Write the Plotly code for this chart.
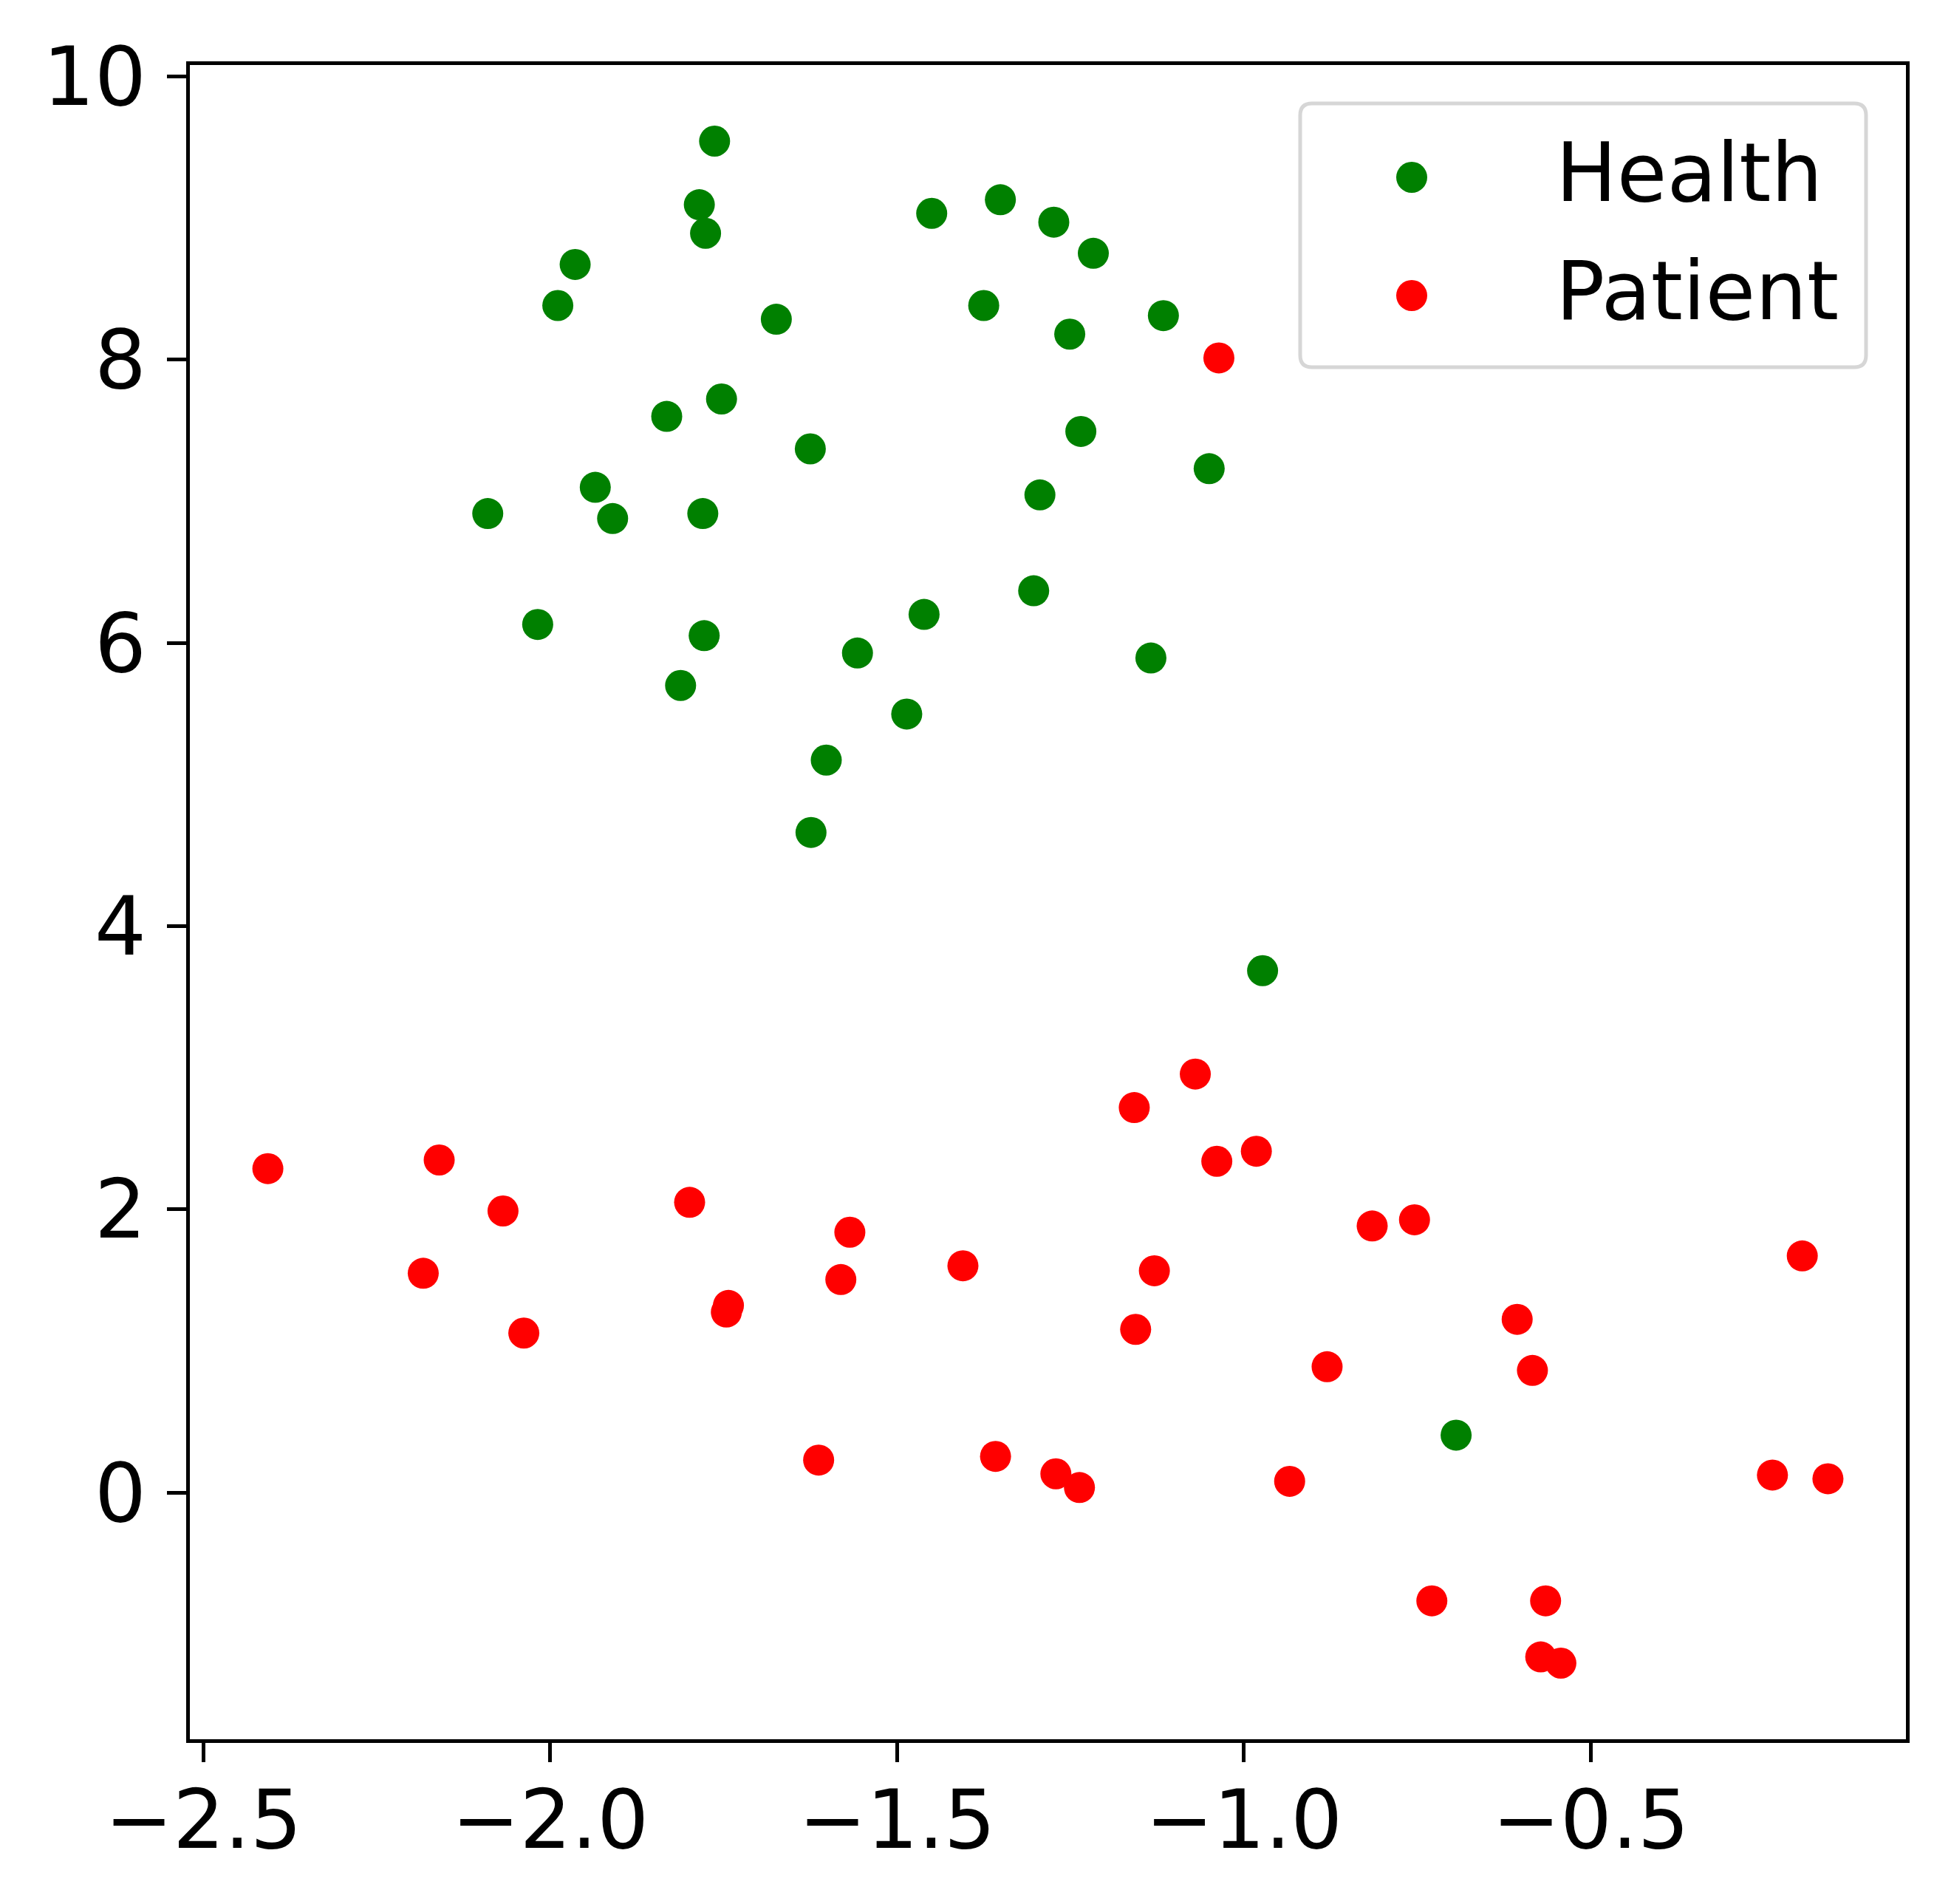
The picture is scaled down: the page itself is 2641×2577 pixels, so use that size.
import plotly.graph_objects as go

health_x = [-1.763, -1.785, -1.776, -1.964, -1.989, -1.674, -1.450, -1.351, -1.274, -1.217,
            -1.375, -1.251, -1.116, -1.832, -1.753, -1.625, -1.235, -1.050, -1.294, -2.090,
            -1.935, -1.910, -1.780, -2.018, -1.778, -1.812, -1.557, -1.461, -1.303, -1.134,
            -1.486, -1.602, -1.624, -0.973, -0.694]
health_y = [9.543, 9.094, 8.892, 8.672, 8.382, 8.285, 9.033, 9.129, 8.971, 8.751,
            8.382, 8.180, 8.311, 7.599, 7.722, 7.370, 7.493, 7.230, 7.045, 6.913,
            7.098, 6.878, 6.913, 6.130, 6.051, 5.699, 5.928, 6.201, 6.368, 5.893,
            5.497, 5.172, 4.661, 3.685, 0.405]

patient_x = [-1.036, -2.407, -2.160, -2.068, -2.183, -2.038, -1.799, -1.568, -1.581, -1.743,
             -1.746, -1.405, -1.613, -1.358, -1.271, -1.237, -1.158, -1.070, -1.039, -0.982,
             -1.129, -1.156, -0.934, -0.880, -0.815, -0.754, -0.729, -0.606, -0.584, -0.565,
             -0.572, -0.543, -0.195, -0.238, -0.158]
patient_y = [8.012, 2.287, 2.348, 1.988, 1.548, 1.126, 2.049, 1.838, 1.504, 1.321,
             1.274, 1.601, 0.229, 0.255, 0.132, 0.035, 2.718, 2.955, 2.339, 2.410,
             1.566, 1.152, 0.079, 0.888, 1.882, 1.926, -0.765, 1.223, 0.862, -0.765,
             -1.161, -1.205, 1.671, 0.123, 0.097]

series_names = ["Health", "Patient"]
series_colors = ["green", "red"]

x_ticks = [-2.5, -2.0, -1.5, -1.0, -0.5]
y_ticks = [0, 2, 4, 6, 8, 10]

# matplotlib-style 5% margins
all_x = health_x + patient_x
all_y = health_y + patient_y
dx = (max(all_x) - min(all_x)) * 0.05
dy = (max(all_y) - min(all_y)) * 0.05
x_range = [min(all_x) - dx, max(all_x) + dx]
y_range = [min(all_y) - dy, max(all_y) + dy]

W, H = 2641, 2577
OFF = 8  # page body margin
ML, MR, MT, MB = 257 - OFF, 61 + OFF, 88 - OFF, 223 + OFF
PW, PH = W - ML - MR, H - MT - MB
FONT = dict(family="DejaVu Sans", size=110, color="black")
MSIZE = 42

fig = go.Figure()
for xs, ys, name, col in [(health_x, health_y, series_names[0], series_colors[0]),
                          (patient_x, patient_y, series_names[1], series_colors[1])]:
    fig.add_trace(go.Scatter(x=xs, y=ys, mode="markers", name=name,
                             marker=dict(color=col, size=MSIZE, line=dict(width=0)),
                             showlegend=False))

axis_common = dict(showline=True, linecolor="black", linewidth=5, mirror=True,
                   ticks="outside", ticklen=26, tickwidth=5, tickcolor="black",
                   showgrid=False, zeroline=False, tickfont=FONT)
fig.update_xaxes(range=x_range, tickvals=x_ticks, ticktext=[f"{v:.1f}".replace("-", "\u2212") for v in x_ticks],
                 ticklabelstandoff=-16, **axis_common)
fig.update_yaxes(range=y_range, tickvals=y_ticks, ticktext=[str(v) for v in y_ticks],
                 ticklabelstandoff=6, **axis_common)

# custom legend (matplotlib-like with full-size markers); positions in page pixels
def px_x(p):
    return (p - OFF - ML) / PW

def px_y(p):
    return (H - MB - (p - OFF)) / PH

lx0, lx1, ly0, ly1 = px_x(1760), px_x(2526), px_y(497), px_y(140)
rx, ry = 16 / PW, 16 / PH
box_path = (f"M {lx0+rx},{ly0} L {lx1-rx},{ly0} Q {lx1},{ly0} {lx1},{ly0+ry} "
            f"L {lx1},{ly1-ry} Q {lx1},{ly1} {lx1-rx},{ly1} "
            f"L {lx0+rx},{ly1} Q {lx0},{ly1} {lx0},{ly1-ry} "
            f"L {lx0},{ly0+ry} Q {lx0},{ly0} {lx0+rx},{ly0} Z")
shapes = [dict(type="path", xref="paper", yref="paper", path=box_path,
               line=dict(color="#d6d6d6", width=5), fillcolor="rgba(255,255,255,0.8)", layer="above")]
annotations = []
for i, (name, col) in enumerate(zip(series_names, series_colors)):
    cy = px_y(240 + 160 * i)
    shapes.append(dict(type="circle", xref="paper", yref="paper", xsizemode="pixel", ysizemode="pixel",
                       xanchor=px_x(1911), yanchor=cy, x0=-MSIZE / 2, x1=MSIZE / 2,
                       y0=-MSIZE / 2, y1=MSIZE / 2, fillcolor=col, line=dict(width=0), layer="above"))
    annotations.append(dict(xref="paper", yref="paper", x=px_x(2104), y=px_y(234 + 160 * i), text=name,
                            showarrow=False, xanchor="left", yanchor="middle", font=FONT))

fig.update_layout(width=W, height=H, margin=dict(l=ML, r=MR, t=MT, b=MB),
                  plot_bgcolor="white", paper_bgcolor="white",
                  shapes=shapes, annotations=annotations, showlegend=False)

fig.write_html("out.html")
